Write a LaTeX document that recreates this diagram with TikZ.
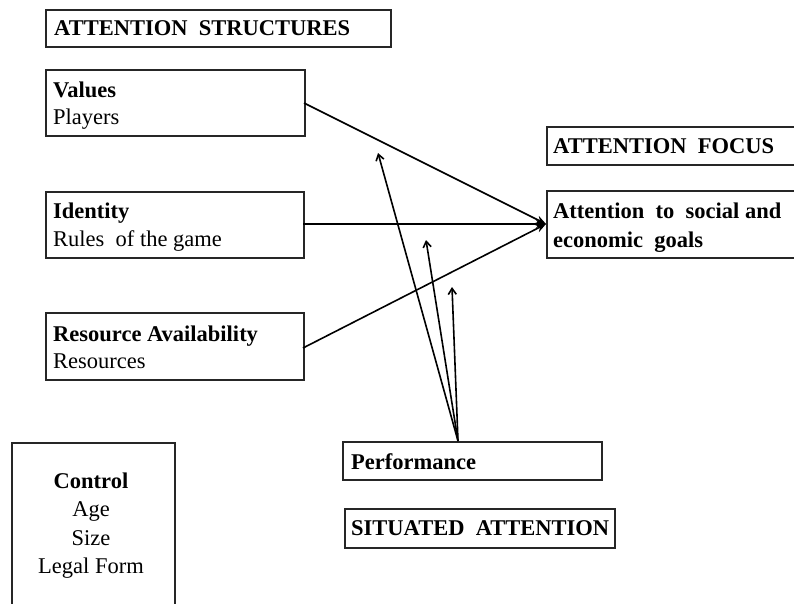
\documentclass[tikz,border=0pt]{standalone}
\usepackage{fontspec}
\setmainfont{Liberation Serif}
\usetikzlibrary{arrows.meta}
\begin{document}
\begin{tikzpicture}[x=1pt,y=-1pt,
  box/.style={draw=black!85,line width=1.5pt,inner sep=0pt,anchor=north west},
  txt/.style={anchor=base west,inner sep=0pt,font=\fontsize{22.5}{27}\selectfont},
  ctxt/.style={anchor=base,inner sep=0pt,font=\fontsize{22.5}{27}\selectfont},
  link/.style={line width=1.6pt,-{Stealth[length=10pt,width=8pt]}},
  fb/.style={line width=1.6pt,-{Straight Barb[length=6pt,width=8pt]}}]
\clip (0,0) rectangle (794,603);
\fill[white] (0,0) rectangle (794,603);

% headings
\node[box,minimum width=345,minimum height=37] (hstruct) at (45,9) {};
\node[txt] at (54,35) {\textbf{ATTENTION\ \ STRUCTURES}};
\node[box,minimum width=260,minimum height=38] (hfocus) at (546,126) {};
\node[txt] at (553,153) {\textbf{ATTENTION\ \ FOCUS}};
\node[box,minimum width=270,minimum height=39] (hsit) at (344,508) {};
\node[txt] at (351,535) {\textbf{SITUATED\ \ ATTENTION}};

% attention structures
\node[box,minimum width=259,minimum height=66] (values) at (45,69) {};
\node[txt] at (53,97) {\textbf{Values}};
\node[txt] at (53,124) {Players};
\node[box,minimum width=258,minimum height=66] (identity) at (45,191) {};
\node[txt] at (53,218) {\textbf{Identity}};
\node[txt] at (53,246) {Rules\ \ of the game};
\node[box,minimum width=258,minimum height=67] (resource) at (45,312) {};
\node[txt] at (53,341) {\textbf{Resource Availability}};
\node[txt] at (53,368) {Resources};

% attention focus
\node[box,minimum width=260,minimum height=67] (goals) at (546,190) {};
\node[txt] at (553,218) {\textbf{Attention\ \ to\ \ social and}};
\node[txt] at (553,247) {\textbf{economic\ \ goals}};

% situated attention
\node[box,minimum width=259,minimum height=38] (perf) at (342,441) {};
\node[txt] at (351,469) {\textbf{Performance}};

% control variables
\node[box,minimum width=163,minimum height=170] (control) at (11,442) {};
\node[ctxt] at (91,488) {\textbf{Control}};
\node[ctxt] at (91,516) {Age};
\node[ctxt] at (91,545) {Size};
\node[ctxt] at (91,573) {Legal Form};

% connectors
\coordinate (vout) at (304,103);
\coordinate (iout) at (303,224);
\coordinate (rout) at (303,348);
\coordinate (gin) at (546,224);
\coordinate (pout) at (458,441);
\coordinate (f1) at (378,153);
\coordinate (f2) at (426,240);
\coordinate (f3) at (452,287);
\draw[link] (vout) -- (gin);
\draw[link] (iout) -- (gin);
\draw[link] (rout) -- (gin);
\draw[fb] (pout) -- (f1);
\draw[fb] (pout) -- (f2);
\draw[fb] (pout) -- (f3);
\end{tikzpicture}
\end{document}
